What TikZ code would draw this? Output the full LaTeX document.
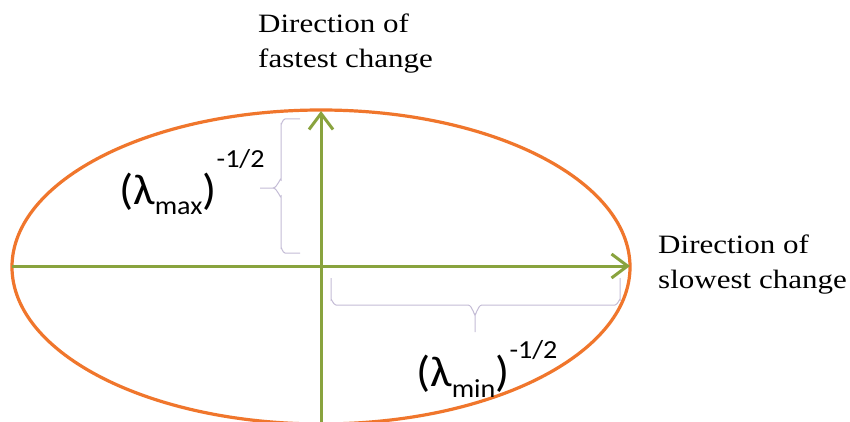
\documentclass[tikz,border=0pt]{standalone}
\usepackage{fontspec}
\setmainfont{Liberation Serif}
\newfontfamily\calib{Carlito}
\usetikzlibrary{arrows.meta}
\definecolor{ellor}{RGB}{240,118,44}
\definecolor{axgreen}{RGB}{137,163,62}
\definecolor{bracec}{RGB}{196,188,214}
\begin{document}
\begin{tikzpicture}[x=1pt,y=-1pt,
  axis/.style={draw=axgreen, line width=3pt, -{Straight Barb[length=16pt,width=24pt,line width=3pt]}},
  ell/.style={draw=ellor, line width=3.2pt},
  brace/.style={draw=bracec, line width=1pt},
  dirlabel/.style={anchor=north west, inner sep=0pt, align=left, xscale=1.17, font=\fontsize{26.5}{35}\selectfont},
  eig/.style={anchor=base west, inner sep=0pt, xscale=1.08, font=\calib}]
\useasboundingbox (0,0) rectangle (850,422);
\clip (0,0) rectangle (850,422);
\fill[white] (0,0) rectangle (850,422);
% ellipse
\draw[ell] (321,267) ellipse [x radius=309, y radius=157];
% axes
\coordinate (L) at (12,266);
\coordinate (R) at (630,266);
\coordinate (B) at (321,426);
\coordinate (T) at (321,111);
\draw[axis] (L) -- (R);
\draw[axis] (B) -- (T);
% braces
\draw[brace] (300,119) -- (285,119) to[out=180,in=-90] (281,124) -- (281,180)
  to[out=90,in=0] (273,188) -- (260,188) -- (273,188) to[out=0,in=-90] (281,196) -- (281,248)
  to[out=90,in=180] (285,253) -- (300,253);
\draw[brace] (331,278) -- (331,300) to[out=90,in=180] (336,305) -- (468,305)
  to[out=0,in=-90] (475,314) -- (475,332);
\draw[brace] (475,314) to[out=-90,in=180] (482,305) -- (615,305)
  to[out=0,in=90] (620,300) -- (620,278);
% labels
\node[dirlabel] (fast) at (258,14) {Direction of\\fastest change};
\node[dirlabel] (slow) at (658,235) {Direction of\\slowest change};
\node[eig] (lmax) at (119,204) {\fontsize{43}{43}\selectfont(λ\raisebox{-10pt}{\fontsize{26}{26}\selectfont max})\raisebox{36pt}{\fontsize{26}{26}\selectfont -1/2}};
\node[eig] (lmin) at (416,386) {\fontsize{43}{43}\selectfont(λ\raisebox{-11pt}{\fontsize{26}{26}\selectfont min})\raisebox{28pt}{\fontsize{26}{26}\selectfont -1/2}};
\end{tikzpicture}
\end{document}
